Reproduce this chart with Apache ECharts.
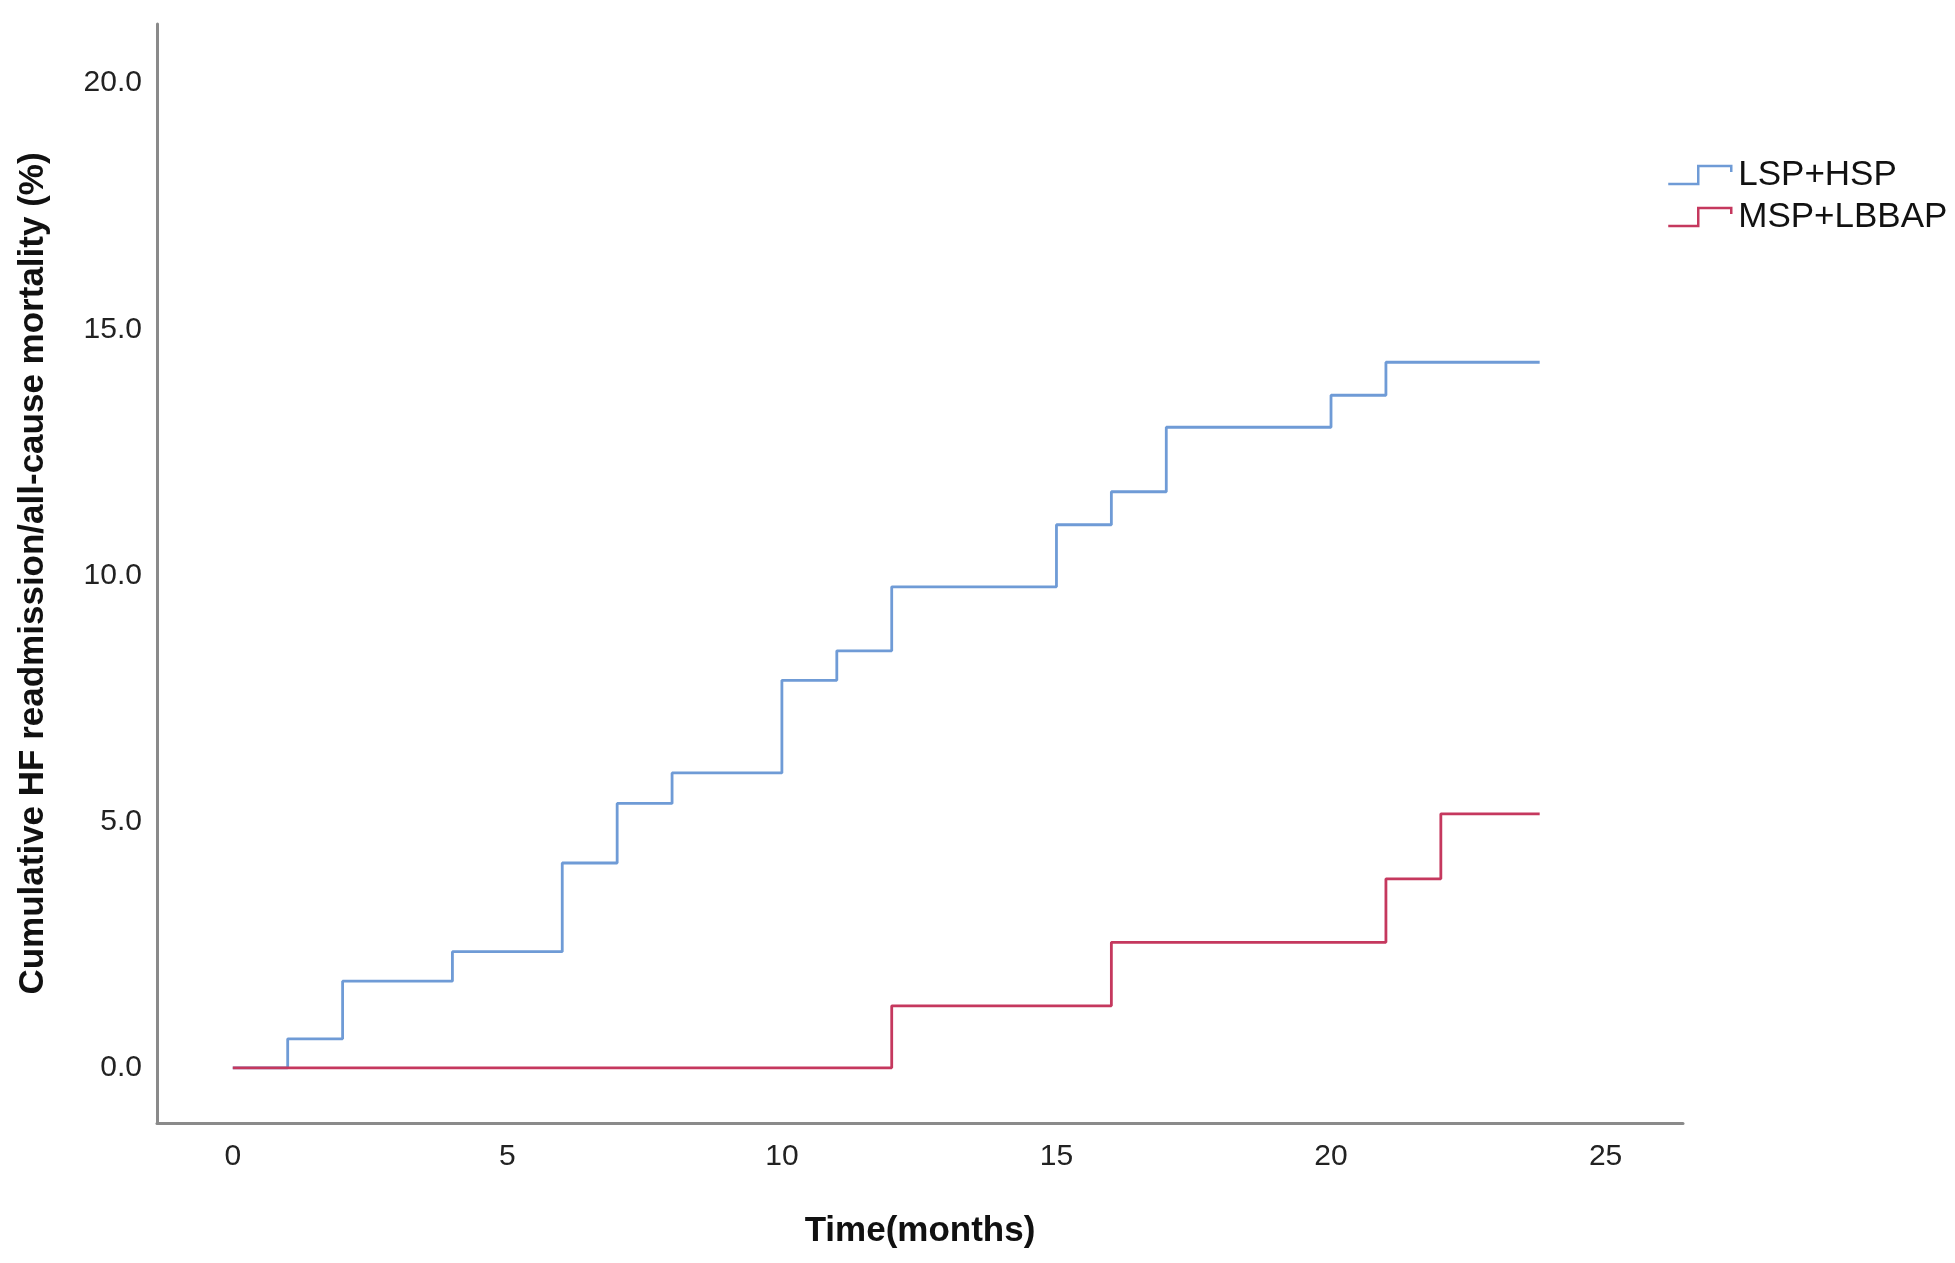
<!DOCTYPE html>
<html lang="en">
<head>
<meta charset="UTF-8">
<title>Cumulative HF readmission/all-cause mortality</title>
<style>
	html, body { margin: 0; padding: 0; background: #ffffff; }
	#main { width: 1955px; height: 1263px; }
</style>
</head>
<body>
	<div id="main"></div>

	<script src="https://cdn.jsdelivr.net/npm/echarts@6.0.0/dist/echarts.min.js"></script>
	<script type="text/javascript">
		// step curves (time in months, cumulative %)
		var blueName = 'LSP+HSP';
		var blueTime = [0, 1, 2, 4, 6, 7, 8, 10, 11, 12, 15, 16, 17, 20, 21, 23.8];
		var blueCum  = [0, 0.59, 1.76, 2.36, 4.16, 5.37, 5.99, 7.87, 8.47, 9.77, 11.03, 11.70, 13.01, 13.66, 14.33, 14.33];

		var redName = 'MSP+LBBAP';
		var redTime = [0, 12, 16, 21, 22, 23.8];
		var redCum  = [0, 1.26, 2.55, 3.84, 5.16, 5.16];

		// tick labels
		var xTicks = [0, 5, 10, 15, 20, 25];
		var yTicks = [0, 5, 10, 15, 20];

		var BLUE = '#6f9bd6';
		var RED = '#c5385e';
		var FONT = 'Liberation Sans, Arial, sans-serif';

		function pairs(t, v) {
			var out = [];
			for (var i = 0; i < t.length; i++) {
				out.push([t[i], v[i]]);
			}
			return out;
		}

		// legend icon: the little KM step
		var stepIcon = 'path://M0,18 L30,18 L30,0 L63,0 L63,6';

		var myChart = echarts.init(document.getElementById('main'));
		var option = {
			backgroundColor: '#ffffff',
			animation: false,
			textStyle: { fontFamily: FONT },
			grid: { left: 157, right: 272, top: 24, bottom: 140 },
			legend: {
				orient: 'vertical',
				left: 1662,
				top: 152,
				itemWidth: 63,
				itemHeight: 18,
				itemGap: 6,
				icon: stepIcon,
				textStyle: { fontSize: 35, color: '#111', fontFamily: FONT, padding: [0, 0, 0, 2], lineHeight: 36 },
				data: [
					{ name: blueName, itemStyle: { color: 'rgba(0,0,0,0)', borderColor: BLUE, borderWidth: 2.5 } },
					{ name: redName, itemStyle: { color: 'rgba(0,0,0,0)', borderColor: RED, borderWidth: 2.5 } }
				]
			},
			xAxis: {
				type: 'value',
				min: -1.38,
				max: 26.41,
				name: 'Time(months)',
				nameLocation: 'middle',
				nameGap: 91,
				nameTextStyle: { fontSize: 35, fontWeight: 'bold', color: '#111', fontFamily: FONT },
				axisLine: { show: true, onZero: false, lineStyle: { color: '#8a8a8a', width: 3 } },
				axisTick: { show: false },
				splitLine: { show: false },
				axisLabel: {
					customValues: xTicks,
					fontSize: 30,
					color: '#222',
					margin: 19,
					fontFamily: FONT
				}
			},
			yAxis: {
				type: 'value',
				min: -1.12,
				max: 21.2,
				name: 'Cumulative HF readmission/all-cause mortality (%)',
				nameLocation: 'middle',
				nameRotate: 90,
				nameGap: 106,
				nameTextStyle: { fontSize: 35, fontWeight: 'bold', color: '#111', fontFamily: FONT },
				axisLine: { show: true, onZero: false, lineStyle: { color: '#8a8a8a', width: 3 } },
				axisTick: { show: false },
				splitLine: { show: false },
				axisLabel: {
					customValues: yTicks,
					fontSize: 30,
					color: '#222',
					margin: 15,
					fontFamily: FONT,
					formatter: function (v) { return v.toFixed(1); }
				}
			},
			series: [{
				name: blueName,
				type: 'line',
				step: 'end',
				showSymbol: false,
				symbol: 'none',
				color: BLUE,
				lineStyle: { color: BLUE, width: 2.8 },
				data: pairs(blueTime, blueCum)
			}, {
				name: redName,
				type: 'line',
				step: 'end',
				showSymbol: false,
				symbol: 'none',
				color: RED,
				lineStyle: { color: RED, width: 2.8 },
				data: pairs(redTime, redCum)
			}]
		};
		myChart.setOption(option);
	</script>
</body>
</html>
